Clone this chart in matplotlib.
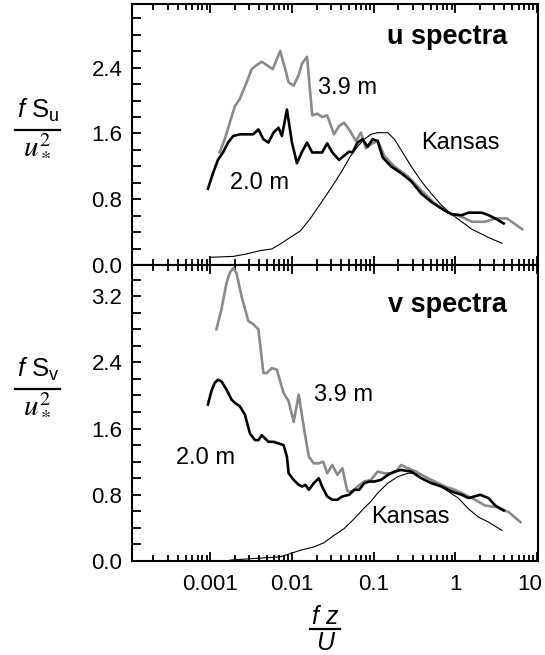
#u and v spectra at 2.0 m and 3.9 m vs Kansas curves
import matplotlib
matplotlib.use("Agg")
import matplotlib.pyplot as plt
from matplotlib.lines import Line2D
from matplotlib.ticker import LogLocator, MultipleLocator, FixedLocator, NullFormatter

plt.rcParams.update({"font.family": "sans-serif",
    "font.sans-serif": ["Liberation Sans", "DejaVu Sans"],
    "font.size": 16, "axes.linewidth": 1.5,
    "mathtext.fontset": "custom",
    "mathtext.rm": "Liberation Sans",
    "mathtext.it": "Liberation Sans:italic",
    "mathtext.bf": "Liberation Sans:bold"})

GRAY = "#8a8a8a"

# u spectra, 3.9 m
u39_x = [0.00130, 0.00150, 0.00173, 0.00200, 0.00230, 0.00278, 0.00321, 0.00370, 0.00427,
         0.00491, 0.00582, 0.00718, 0.00828, 0.00910, 0.0105, 0.0121, 0.0133, 0.0153, 0.0177,
         0.0204, 0.0234, 0.0270, 0.0327, 0.0377, 0.0434, 0.0501, 0.0606, 0.0698, 0.0804,
         0.0927, 0.112, 0.135, 0.180, 0.263, 0.384, 0.561, 0.820, 1.20, 1.59, 2.32, 3.09,
         4.30, 6.59]
u39_y = [1.37, 1.53, 1.73, 1.93, 2.02, 2.22, 2.38, 2.43, 2.47, 2.43, 2.38, 2.60, 2.38, 2.22,
         2.18, 2.31, 2.45, 2.53, 1.82, 1.84, 1.80, 1.82, 1.59, 1.69, 1.73, 1.65, 1.51, 1.61,
         1.42, 1.47, 1.51, 1.33, 1.20, 1.08, 0.91, 0.75, 0.64, 0.59, 0.53, 0.53, 0.57, 0.57,
         0.44]

# u spectra, 2.0 m
u20_x = [0.000936, 0.00108, 0.00124, 0.00143, 0.00165, 0.00191, 0.00230, 0.00292, 0.00336,
         0.00388, 0.00447, 0.00515, 0.00594, 0.00685, 0.00753, 0.00868, 0.0100, 0.0115,
         0.0133, 0.0153, 0.0177, 0.0204, 0.0234, 0.0270, 0.0312, 0.0377, 0.0434, 0.0501,
         0.0551, 0.0634, 0.0731, 0.0843, 0.0972, 0.112, 0.129, 0.164, 0.217, 0.289, 0.384,
         0.510, 0.678, 0.901, 1.20, 1.45, 2.11, 2.55, 3.09, 3.91]
u20_y = [0.93, 1.12, 1.28, 1.37, 1.49, 1.57, 1.59, 1.59, 1.59, 1.65, 1.53, 1.49, 1.61, 1.67,
         1.57, 1.89, 1.49, 1.24, 1.38, 1.49, 1.37, 1.37, 1.37, 1.48, 1.37, 1.28, 1.33, 1.38,
         1.37, 1.49, 1.53, 1.44, 1.53, 1.51, 1.31, 1.20, 1.12, 1.02, 0.87, 0.77, 0.69, 0.62,
         0.61, 0.64, 0.64, 0.61, 0.57, 0.51]

# u spectra, Kansas
uk_x = [0.00103, 0.00191, 0.00278, 0.00406, 0.00566, 0.00718, 0.00953, 0.0127, 0.0168,
        0.0224, 0.0297, 0.0395, 0.0525, 0.0634, 0.0767, 0.0927, 0.112, 0.149, 0.180, 0.217,
        0.289, 0.384, 0.510, 0.678, 0.901, 1.20, 1.59, 2.11, 2.81, 3.73]
uk_y = [0.10, 0.11, 0.14, 0.18, 0.20, 0.26, 0.34, 0.42, 0.57, 0.75, 0.93, 1.12, 1.33, 1.44,
        1.53, 1.59, 1.61, 1.61, 1.53, 1.40, 1.20, 1.02, 0.87, 0.73, 0.62, 0.53, 0.44, 0.38,
        0.32, 0.27]

# v spectra, 3.9 m
v39_x = [0.00119, 0.00137, 0.00158, 0.00173, 0.00191, 0.00209, 0.00241, 0.00292, 0.00336,
         0.00388, 0.00447, 0.00491, 0.00566, 0.00653, 0.00789, 0.00910, 0.0105, 0.0121,
         0.0133, 0.0146, 0.0161, 0.0185, 0.0213, 0.0241, 0.0270, 0.0312, 0.0360, 0.0414,
         0.0478, 0.0551, 0.0634, 0.0767, 0.0927, 0.112, 0.135, 0.164, 0.189, 0.217, 0.263,
         0.333, 0.422, 0.561, 0.745, 0.991, 1.32, 1.75, 2.32, 3.24, 4.51, 6.28]
v39_y = [2.80, 3.04, 3.36, 3.48, 3.54, 3.48, 3.20, 2.90, 2.86, 2.80, 2.27, 2.27, 2.33, 2.31,
         2.03, 1.93, 1.68, 2.01, 1.75, 1.50, 1.26, 1.18, 1.18, 1.20, 1.06, 1.16, 1.04, 1.12,
         0.84, 0.84, 0.90, 0.96, 0.98, 1.08, 1.06, 1.06, 1.08, 1.16, 1.12, 1.08, 1.02, 0.96,
         0.90, 0.86, 0.80, 0.74, 0.67, 0.65, 0.59, 0.47]

# v spectra, 2.0 m
v20_x = [0.000936, 0.00103, 0.00113, 0.00124, 0.00137, 0.00158, 0.00182, 0.00200, 0.00230,
         0.00265, 0.00306, 0.00353, 0.00388, 0.00427, 0.00469, 0.00515, 0.00594, 0.00685,
         0.00789, 0.00868, 0.00910, 0.0105, 0.0121, 0.0133, 0.0146, 0.0161, 0.0185, 0.0213,
         0.0234, 0.0270, 0.0312, 0.0360, 0.0414, 0.0501, 0.0577, 0.0665, 0.0767, 0.0885,
         0.102, 0.123, 0.149, 0.180, 0.217, 0.289, 0.384, 0.510, 0.678, 0.901, 1.20, 1.45,
         2.02, 2.55, 3.09, 3.91]
v20_y = [1.89, 2.05, 2.15, 2.19, 2.17, 2.07, 1.95, 1.91, 1.87, 1.77, 1.54, 1.46, 1.46, 1.52,
         1.48, 1.44, 1.44, 1.42, 1.40, 1.26, 1.06, 0.98, 0.92, 0.90, 0.92, 0.86, 0.94, 1.00,
         0.90, 0.78, 0.74, 0.74, 0.78, 0.80, 0.86, 0.86, 0.94, 0.96, 0.96, 0.98, 1.04, 1.08,
         1.10, 1.08, 1.00, 0.94, 0.90, 0.84, 0.80, 0.76, 0.80, 0.76, 0.67, 0.61]

# v spectra, Kansas
vk_x = [0.00173, 0.00336, 0.00718, 0.0127, 0.0185, 0.0246, 0.0327, 0.0434, 0.0577, 0.0765,
        0.0927, 0.112, 0.149, 0.198, 0.263, 0.349, 0.464, 0.617, 0.820, 1.09, 1.45, 1.92,
        2.55, 3.73]
vk_y = [0.01, 0.03, 0.05, 0.13, 0.17, 0.22, 0.31, 0.39, 0.51, 0.64, 0.72, 0.82, 0.94, 1.02,
        1.06, 1.06, 1.00, 0.92, 0.84, 0.76, 0.63, 0.53, 0.47, 0.37]

xtick_vals = [1e-3, 1e-2, 1e-1, 1, 10]
xtick_labels = ["0.001", "0.01", "0.1", "1", "10"]

fig = plt.figure(figsize=(5.45, 6.55), dpi=100)
ax1 = fig.add_axes([0.2422, 0.5947, 0.745, 0.3992])
ax2 = fig.add_axes([0.2422, 0.1435, 0.745, 0.4512])

panels = [(ax1, u39_x, u39_y, u20_x, u20_y, uk_x, uk_y, (0, 3.17), [0, 0.8, 1.6, 2.4]),
          (ax2, v39_x, v39_y, v20_x, v20_y, vk_x, vk_y, (0, 3.57), [0, 0.8, 1.6, 2.4, 3.2])]
for ax, gx, gy, bx, by, kx, ky, ylim, yt in panels:
    ax.plot(kx, ky, color="k", lw=0.8, zorder=2)
    ax.plot(gx, gy, color=GRAY, lw=1.9, zorder=3)
    ax.plot(bx, by, color="k", lw=1.9, zorder=4)
    ax.set_xscale("log")
    ax.set_xlim(1.1e-4, 10.3)
    ax.set_ylim(*ylim)
    ax.yaxis.set_major_locator(FixedLocator(yt))
    ax.yaxis.set_minor_locator(MultipleLocator(0.2))
    ax.yaxis.set_major_formatter(plt.FormatStrFormatter("%.1f"))
    ax.xaxis.set_major_locator(LogLocator(base=10, numticks=12))
    ax.xaxis.set_minor_locator(LogLocator(base=10, subs=range(2, 10), numticks=12))
    ax.xaxis.set_minor_formatter(NullFormatter())
    ax.tick_params(axis="x", which="both", direction="in", top=True, bottom=True, width=1.3,
                   labelbottom=False)
    ax.tick_params(axis="x", which="major", length=6.5)
    ax.tick_params(axis="x", which="minor", length=4.3)
    ax.tick_params(axis="y", which="both", direction="in", right=False, width=1.3,
                   length=6.5, pad=7)

# x tick labels drawn as text so "10" stays inside the figure
for v, lab in zip(xtick_vals, xtick_labels):
    ax2.annotate(lab, xy=(v, 0), xycoords=("data", "axes fraction"),
                 xytext=(-5 if v == 10 else 0, -9), textcoords="offset points",
                 ha="center", va="top", fontsize=16)

ax1.text(0.924, 0.874, "u spectra", transform=ax1.transAxes, ha="right", va="center",
         fontsize=19.5, fontweight="bold")
ax2.text(0.924, 0.866, "v spectra", transform=ax2.transAxes, ha="right", va="center",
         fontsize=19.5, fontweight="bold")
ax1.text(0.0211, 2.15, "3.9 m", ha="left", va="center", fontsize=17)
ax1.text(0.00173, 1.0, "2.0 m", ha="left", va="center", fontsize=17)
ax1.text(0.384, 1.48, "Kansas", ha="left", va="center", fontsize=17)
ax2.text(0.0184, 2.01, "3.9 m", ha="left", va="center", fontsize=17)
ax2.text(0.000384, 1.245, "2.0 m", ha="left", va="center", fontsize=17)
ax2.text(0.0927, 0.53, "Kansas", ha="left", va="center", fontsize=17)

# y labels as stacked fractions
W, H = 545.0, 655.0
def fx(px): return px / W
def fy(py): return 1 - py / H

for comp, base in (("u", 0), ("v", 259)):
    fig.text(fx(38), fy(118 + base), r"$f$ S$_\mathrm{%s}$" % comp, ha="center",
             va="baseline", fontsize=18.5)
    fig.add_artist(Line2D([fx(15), fx(60)], [fy(130 + base)] * 2, color="k", lw=1.6))
    fig.text(fx(37), fy(152 + base), r"$u_*^2$", ha="center", va="baseline",
             fontsize=21, math_fontfamily="stix")

# x label
fig.text(fx(325), fy(624), "f z", ha="center", va="baseline", fontsize=18, style="italic")
fig.add_artist(Line2D([fx(310), fx(340)], [fy(629)] * 2, color="k", lw=1.6))
fig.text(fx(325), fy(650), "U", ha="center", va="baseline", fontsize=18, style="italic")

fig.savefig("out.png", dpi=100)
